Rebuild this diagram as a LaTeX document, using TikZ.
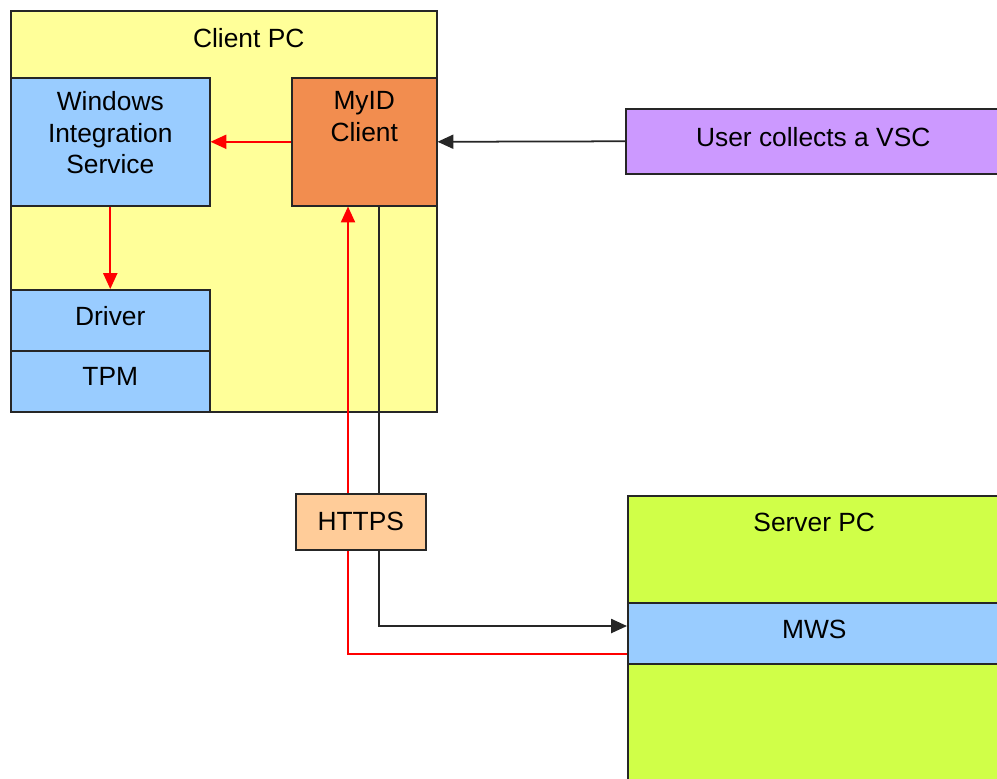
\documentclass[tikz,border=0pt]{standalone}
\usepackage{fontspec}
\setmainfont{Liberation Sans}
\usetikzlibrary{positioning,arrows.meta}

\definecolor{clientyellow}{HTML}{FFFF99}
\definecolor{boxblue}{HTML}{99CCFF}
\definecolor{myidorange}{HTML}{F28D4F}
\definecolor{vscpurple}{HTML}{CC99FF}
\definecolor{httpsbeige}{HTML}{FFCC99}
\definecolor{servergreen}{HTML}{D0FF48}

\tikzset{
  pcbox/.style={draw=black!85,line width=0.9pt,anchor=north west,inner sep=0pt},
  lbl/.style={font=\fontsize{15}{18}\selectfont,inner sep=0pt,align=center},
  redarr/.style={draw=red,line width=1pt,-{Triangle[length=9pt,width=8pt]}},
  redln/.style={draw=red,line width=1pt},
  blkarr/.style={draw=black!85,line width=1pt,-{Triangle[length=9pt,width=8pt]}},
  blkln/.style={draw=black!85,line width=1pt}
}

\begin{document}
\begin{tikzpicture}[x=0.02cm,y=-0.02cm]
\useasboundingbox (0,0) rectangle (997,778);

% Client PC
\node[pcbox,fill=clientyellow,minimum width=8.52cm,minimum height=8.02cm] (client) at (10,10) {};
\node[lbl,below=10pt of client.north,xshift=0.5cm] (clientlbl) {Client PC};

\node[pcbox,fill=boxblue,minimum width=3.98cm,minimum height=2.56cm] (wis) at (10,77) {};
\node[lbl,below=8pt of wis.north] (wislbl) {Windows\\Integration\\Service};

\node[pcbox,fill=myidorange,minimum width=2.9cm,minimum height=2.56cm] (myid) at (291,77) {};
\node[lbl,below=8pt of myid.north] (myidlbl) {MyID\\Client};

\node[pcbox,fill=boxblue,minimum width=3.98cm,minimum height=1.22cm,lbl,anchor=north west,text depth=5pt] (driver) at (10,289) {Driver};
\node[pcbox,fill=boxblue,minimum width=3.98cm,minimum height=1.22cm,lbl,anchor=north west,text depth=5pt] (tpm) at (10,350) {TPM};

% User action
\node[pcbox,fill=vscpurple,minimum width=7.5cm,minimum height=1.3cm,lbl,anchor=north west,text depth=5pt] (vsc) at (625,108) {User collects a VSC};

% Transport
\node[pcbox,fill=httpsbeige,minimum width=2.6cm,minimum height=1.12cm,lbl,anchor=north west] (https) at (295,493) {HTTPS};

% Server PC
\node[pcbox,fill=servergreen,minimum width=7.46cm,minimum height=6cm] (server) at (627,495) {};
\node[lbl,below=10pt of server.north] (serverlbl) {Server PC};
\node[pcbox,fill=boxblue,minimum width=7.46cm,minimum height=1.22cm,lbl,anchor=north west,text depth=5pt] (mws) at (627,602) {MWS};

% Connectors
\coordinate (rx) at (348,654);
\coordinate (bx) at (379,626);

\draw[redarr] (myid.west) -- (wis.east);
\draw[redarr] (wis.south) -- (driver.north);
\draw[blkarr] (vsc.west) -- (myid.east);

\draw[redln] (mws.west |- rx) -| (rx |- https.south);
\draw[redarr] (rx |- https.north) -- (rx |- myid.south);

\draw[blkln] (bx |- myid.south) -- (bx |- https.north);
\draw[blkarr] (bx |- https.south) |- (mws.west |- bx);
\end{tikzpicture}
\end{document}
